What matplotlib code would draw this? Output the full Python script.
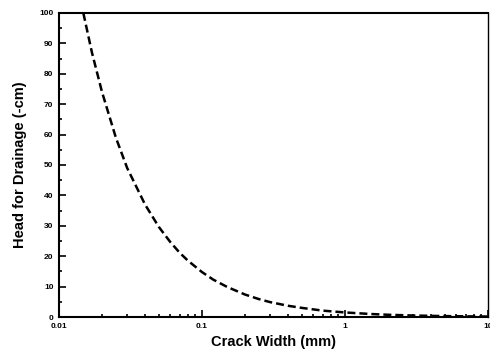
import matplotlib
matplotlib.use("Agg")
import matplotlib.pyplot as plt
from matplotlib.ticker import LogLocator, FixedLocator, MultipleLocator

# values
crack_width = [0.0148, 0.017, 0.02, 0.025, 0.03, 0.04, 0.05, 0.06, 0.07, 0.08,
               0.1, 0.12, 0.15, 0.2, 0.25, 0.3, 0.4, 0.5, 0.7, 1.0,
               1.5, 2.0, 3.0, 5.0, 10.0]
head = [100, 87, 74, 59, 49, 37, 29.6, 24.7, 21.1, 18.5,
        14.8, 12.3, 9.9, 7.4, 5.9, 4.9, 3.7, 3.0, 2.1, 1.5,
        1.0, 0.74, 0.49, 0.3, 0.15]

x_ticks = [0.01, 0.1, 1, 10]
x_tick_labels = ["0.01", "0.1", "1", "10"]
y_ticks = list(range(0, 101, 10))

plt.rcParams['font.family'] = ['Liberation Sans', 'DejaVu Sans']

fig = plt.figure(figsize=(4.9, 3.54), dpi=100)
ax = fig.add_axes([0.1204, 0.1045, 0.875, 0.8588])

ax.plot(crack_width, head, color='black', lw=1.8, ls=(0, (3.2, 1.6)))

ax.set_xscale('log')
ax.set_xlim(0.01, 10)
ax.set_ylim(0, 100)

ax.xaxis.set_major_locator(FixedLocator(x_ticks))
ax.set_xticklabels(x_tick_labels)
ax.xaxis.set_minor_locator(LogLocator(base=10, subs=range(2, 10)))
ax.set_yticks(y_ticks)
ax.yaxis.set_minor_locator(MultipleLocator(5))

ax.tick_params(which='both', direction='in', width=1.2, labelsize=6, pad=4)
ax.tick_params(which='major', length=5)
ax.tick_params(which='minor', length=2.5)
ax.tick_params(top=False, right=False, which='both')
for lab in ax.get_xticklabels() + ax.get_yticklabels():
    lab.set_fontweight('bold')

for s in ax.spines.values():
    s.set_linewidth(1.5)
ax.spines['right'].set_linewidth(1.0)

ax.set_xlabel("Crack Width (mm)", fontsize=10.5, fontweight='bold', labelpad=4)
ax.set_ylabel("Head for Drainage (-cm)", fontsize=10.5, fontweight='bold', labelpad=9)

fig.savefig("out.png", dpi=100)
